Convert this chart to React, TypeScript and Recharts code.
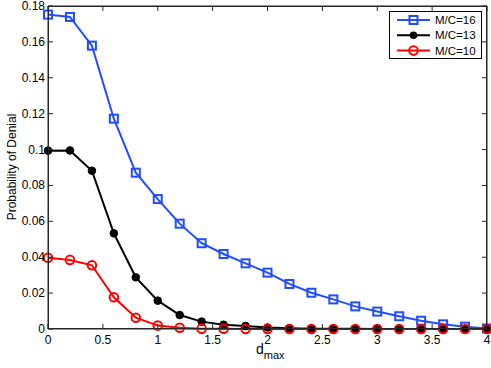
import React from "react";
import { LineChart, Line, XAxis, YAxis, ReferenceLine } from "recharts";

const dmax = [0, 0.2, 0.4, 0.6, 0.8, 1.0, 1.2, 1.4, 1.6, 1.8, 2.0, 2.2, 2.4, 2.6, 2.8, 3.0, 3.2, 3.4, 3.6, 3.8, 4.0];
const mc16 = [0.1752, 0.1739, 0.1579, 0.1172, 0.0871, 0.0724, 0.0587, 0.0478, 0.0418, 0.0366, 0.0314, 0.0251, 0.0202, 0.0165, 0.0126, 0.0097, 0.0071, 0.0046, 0.0026, 0.0013, 0.0003];
const mc13 = [0.0994, 0.0995, 0.0882, 0.0533, 0.0288, 0.0158, 0.0078, 0.0041, 0.0024, 0.0017, 0.0008, 0.0004, 0.0002, 0.0001, 0.0001, 0, 0, 0, 0, 0, 0];
const mc10 = [0.0397, 0.0385, 0.0355, 0.0177, 0.0063, 0.0019, 0.0007, 0.0002, 0.0001, 0, 0, 0, 0, 0, 0, 0, 0, 0, 0, 0, 0];
const xTicks = [0, 0.5, 1, 1.5, 2, 2.5, 3, 3.5, 4];
const yTicks = [0, 0.02, 0.04, 0.06, 0.08, 0.1, 0.12, 0.14, 0.16, 0.18];
const seriesNames = ["M/C=16", "M/C=13", "M/C=10"];

const BLUE = "#1f4dff";
const RED = "#ff0000";
const BLACK = "#000000";
const AXIS = "#262626";
const FONT = "'Liberation Sans', Arial, Helvetica, sans-serif";

const W = 491;
const H = 368;
const MT = 6;
const MR = 4;
const ML = 48;
const MB = 39;
const PW = W - ML - MR;
const PH = H - MT - MB;

const data = dmax.map((d, i) => ({ d, a: mc16[i], b: mc13[i], c: mc10[i] }));

function BottomTick(p: any) {
  const x = Number(p.x);
  const y = Number(p.y);
  return (
    <g>
      <path d={`M${x},${y}V${y - 5}`} stroke={AXIS} strokeWidth={1} fill="none" />
      <path d={`M${x},${y - PH}V${y - PH + 5}`} stroke={AXIS} strokeWidth={1} fill="none" />
      <text x={x} y={y + 15} textAnchor="middle" fontSize={12} fontFamily={FONT} fill="#000">
        {String(p.payload.value)}
      </text>
    </g>
  );
}
function LeftTick(p: any) {
  const x = Number(p.x);
  const y = Number(p.y);
  return (
    <g>
      <path d={`M${x},${y}H${x + 5}`} stroke={AXIS} strokeWidth={1} fill="none" />
      <path d={`M${x + PW},${y}H${x + PW - 5}`} stroke={AXIS} strokeWidth={1} fill="none" />
      <text x={x - 3} y={y + 4} textAnchor="end" fontSize={12} fontFamily={FONT} fill="#000">
        {String(p.payload.value)}
      </text>
    </g>
  );
}

const SquareDot = (p: any) => (
  <rect key={`s${p.index}`} x={p.cx - 4} y={p.cy - 4} width={8} height={8} fill="none" stroke={BLUE} strokeWidth={2} />
);
const FilledDot = (p: any) => (
  <circle key={`f${p.index}`} cx={p.cx} cy={p.cy} r={3.8} fill={BLACK} stroke={BLACK} />
);
const RingDot = (p: any) => (
  <circle key={`r${p.index}`} cx={p.cx} cy={p.cy} r={4.3} fill="none" stroke={RED} strokeWidth={2} />
);

const legendMarkers = [
  (cx: number, cy: number) => <rect x={cx - 4} y={cy - 4} width={8} height={8} fill="none" stroke={BLUE} strokeWidth={2} />,
  (cx: number, cy: number) => <circle cx={cx} cy={cy} r={3.8} fill={BLACK} />,
  (cx: number, cy: number) => <circle cx={cx} cy={cy} r={4.3} fill="none" stroke={RED} strokeWidth={2} />,
];
const legendColors = [BLUE, BLACK, RED];

export default function App() {
  return (
    <div style={{ position: "absolute", left: 0, top: 0, width: W, height: H, background: "#fff" }}>
      <LineChart width={W} height={H} data={data} margin={{ top: MT, right: MR, bottom: 0, left: 0 }}>
        <ReferenceLine y={0.18} stroke={AXIS} strokeWidth={1} ifOverflow="extendDomain" />
        <ReferenceLine x={4} stroke={AXIS} strokeWidth={1} ifOverflow="extendDomain" />
        <XAxis
          dataKey="d"
          type="number"
          domain={[0, 4]}
          ticks={xTicks}
          height={MB}
          tickSize={0}
          tickMargin={0}
          tickLine={false}
          tick={BottomTick}
          stroke={AXIS}
          interval={0}
        />
        <YAxis
          type="number"
          domain={[0, 0.18]}
          ticks={yTicks}
          width={ML}
          tickSize={0}
          tickMargin={0}
          tickLine={false}
          tick={LeftTick}
          stroke={AXIS}
          interval={0}
        />
        <Line dataKey="a" name={seriesNames[0]} stroke={BLUE} strokeWidth={2} dot={SquareDot} isAnimationActive={false} />
        <Line dataKey="b" name={seriesNames[1]} stroke={BLACK} strokeWidth={2} dot={FilledDot} isAnimationActive={false} />
        <Line dataKey="c" name={seriesNames[2]} stroke={RED} strokeWidth={2} dot={RingDot} isAnimationActive={false} />
      </LineChart>
      <svg
        style={{ position: "absolute", left: 0, top: 0, pointerEvents: "none" }}
        width={W}
        height={H}
      >
        <rect x={ML + 0.5} y={MT + 0.5} width={PW - 1} height={PH - 1} fill="none" stroke={AXIS} strokeWidth={1} />
      </svg>
      <div
        style={{
          position: "absolute",
          left: 12,
          top: 167,
          transform: "translate(-50%, -50%) rotate(-90deg)",
          fontFamily: FONT,
          fontSize: 12,
          whiteSpace: "nowrap",
        }}
      >
        Probability of Denial
      </div>
      <div
        style={{
          position: "absolute",
          left: 256,
          top: 341,
          fontFamily: FONT,
          fontSize: 14,
          whiteSpace: "nowrap",
          lineHeight: "16px",
        }}
      >
        d<sub style={{ fontSize: 11, verticalAlign: "-5px" }}>max</sub>
      </div>
      <svg style={{ position: "absolute", left: 389, top: 11 }} width={93} height={48}>
        <rect x={0.5} y={0.5} width={92} height={47} fill="#fff" stroke="#000" />
        {seriesNames.map((name, i) => {
          const cy = 9 + i * 15.3;
          return (
            <g key={name}>
              <line x1={8} y1={cy} x2={41} y2={cy} stroke={legendColors[i]} strokeWidth={2} />
              {legendMarkers[i](24.5, cy)}
              <text x={46} y={cy + 4} fontSize={11.5} fontFamily={FONT} fill="#000">
                {name}
              </text>
            </g>
          );
        })}
      </svg>
    </div>
  );
}
